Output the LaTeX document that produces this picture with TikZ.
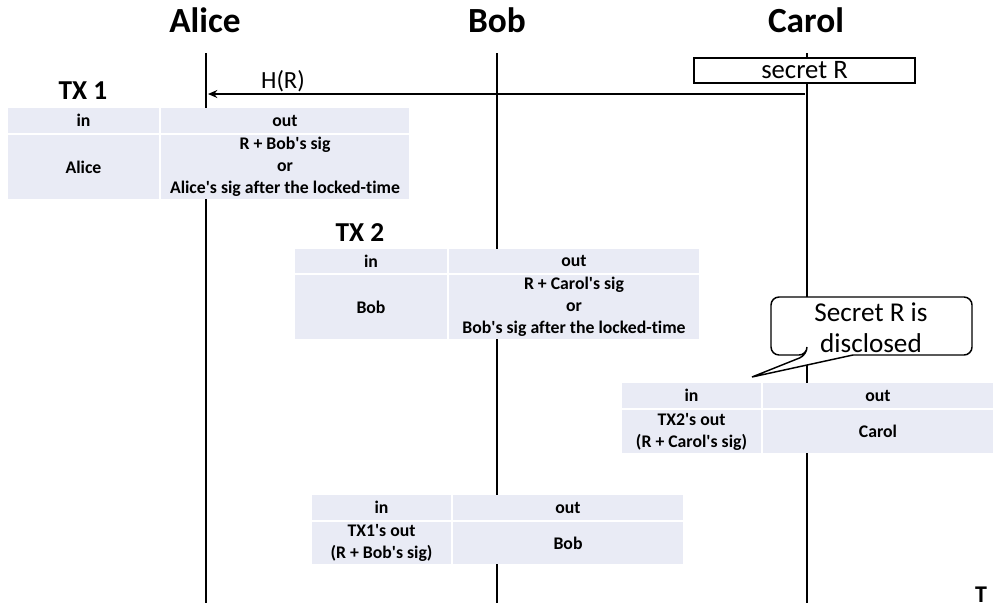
\documentclass[tikz,border=0pt]{standalone}
\usepackage{fontspec}
\newfontfamily\calib{Carlito}[Ligatures=NoCommon]
\usetikzlibrary{arrows.meta}
\definecolor{cellfill}{HTML}{E9EBF5}
\newcommand\fs[2]{\calib\fontsize{#1}{#2}\selectfont}
% table cell: name, left, top, right, bottom (px), text
\newcommand\tcell[6]{\node[cell, minimum width={(#4-#2)*0.75pt}, minimum height={(#5-#3)*0.75pt}] (#1) at ({(#2+#4)/2},{(#3+#5)/2}) {#6};}
\begin{document}
\begin{tikzpicture}[x=0.75pt,y=-0.75pt,
  cell/.style={fill=cellfill, inner sep=0pt, outer sep=0pt, align=center, font=\fs{13.3}{16.5}\bfseries},
  lifeline/.style={line width=1.9pt},
  msg/.style={line width=1.5pt, -{Stealth[length=7pt,width=6pt]}},
  actor/.style={anchor=base, font=\fs{26.5}{32}\bfseries},
  txlabel/.style={anchor=base, font=\fs{20.5}{24}\bfseries},
  plain/.style={anchor=base, font=\fs{18.5}{22}}]
\useasboundingbox (0,0) rectangle (1003,614);

% actors
\node[actor] (alice) at (205,32) {Alice};
\node[actor] (bob) at (497,32) {Bob};
\node[actor] (carol) at (806,32) {Carol};

% lifelines
\coordinate (aTop) at (206,53); \coordinate (aBot) at (206,603);
\coordinate (bTop) at (497,53); \coordinate (bBot) at (497,603);
\coordinate (cTop) at (807,53); \coordinate (cBot) at (807,603);
\draw[lifeline] (aTop) -- (aBot);
\draw[lifeline] (bTop) -- (bBot);
\draw[lifeline] (cTop) -- (cBot);

% secret held by Carol
\node[draw, fill=white, line width=1.1pt, inner sep=0pt,
      minimum width={221*0.75pt}, minimum height={25*0.75pt},
      font=\fs{20}{24}] (secret) at (804.5,70.5) {secret R};

% hash sent to Alice
\coordinate (hrFrom) at (805,94);
\coordinate (hrTo) at (208,94);
\draw[msg] (hrFrom) -- (hrTo);
\node[plain] (hr) at (283,88) {H(R)};

% white backing so the cell gaps hide the lifelines
\fill[white] (8,108) rectangle (409,199);
\fill[white] (295,249) rectangle (699,339);
\fill[white] (622,383) rectangle (993,453);
\fill[white] (312,495) rectangle (683,564);

% TX 1
\node[txlabel] (tx1) at (83,99) {TX 1};
\tcell{t1a}{8}{108}{159}{133}{in}
\tcell{t1b}{161}{108}{409}{133}{out}
\tcell{t1c}{8}{135}{159}{199}{Alice}
\tcell{t1d}{161}{135}{409}{199}{R + Bob's sig\\or\\Alice's sig after the locked-time}

% TX 2
\node[txlabel] (tx2) at (360,241) {TX 2};
\tcell{t2a}{295}{249}{447}{273}{in}
\tcell{t2b}{449}{249}{699}{273}{out}
\tcell{t2c}{295}{275}{447}{339}{Bob}
\tcell{t2d}{449}{275}{699}{339}{R + Carol's sig\\or\\Bob's sig after the locked-time}

% Carol redeems TX 2
\tcell{t3a}{622}{383}{761}{408}{in}
\tcell{t3b}{763}{383}{993}{408}{out}
\tcell{t3c}{622}{410}{761}{453}{TX2's out\\(R + Carol's sig)}
\tcell{t3d}{763}{410}{993}{453}{Carol}

% Bob redeems TX 1
\tcell{t4a}{312}{495}{451}{520}{in}
\tcell{t4b}{453}{495}{683}{520}{out}
\tcell{t4c}{312}{522}{451}{564}{TX1's out\\(R + Bob's sig)}
\tcell{t4d}{453}{522}{683}{564}{Bob}

% callout
\draw[fill=white, line width=1.1pt] (807,355) -- (752,377) -- (853,355)
  [rounded corners=6pt] -- (972,355) -- (972,297) -- (771,297) -- (771,355) -- (807,355) -- cycle;
\node[align=center, font=\fs{20.4}{23}] (disc) at (871,328) {Secret R is\\disclosed};

% time axis
\node[anchor=base, font=\fs{18}{22}\bfseries] (tlabel) at (981,602) {T};
\end{tikzpicture}
\end{document}
